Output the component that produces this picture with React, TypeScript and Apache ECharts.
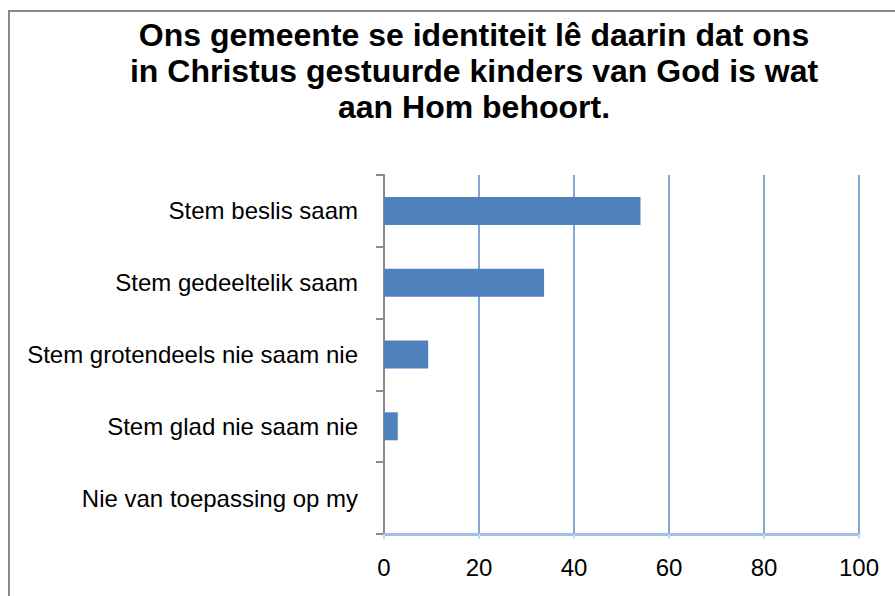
import React, { useEffect, useRef } from "react";
import * as echarts from "echarts";

const titleLines = [
  "Ons gemeente se identiteit lê daarin dat ons",
  "in Christus gestuurde kinders van God is wat",
  "aan Hom behoort.",
];
const categories = [
  "Stem beslis saam",
  "Stem gedeeltelik saam",
  "Stem grotendeels nie saam nie",
  "Stem glad nie saam nie",
  "Nie van toepassing op my",
];
const values = [54.0, 33.7, 9.3, 2.9, 0];
const xMin = 0;
const xMax = 100;
const xStep = 20;

export default function App() {
  const ref = useRef<HTMLDivElement>(null);
  useEffect(() => {
    if (!ref.current) return;
    const chart = echarts.init(ref.current, undefined, { renderer: "svg" });
    chart.setOption({
      animation: false,
      backgroundColor: "#ffffff",
      title: {
        text: titleLines.join("\n"),
        left: 469,
        top: 12,
        textAlign: "center",
        textStyle: {
          fontFamily: "Liberation Sans, Arial, sans-serif",
          fontWeight: "bold",
          fontSize: 32,
          lineHeight: 36,
          color: "#000000",
        },
      },
      graphic: [
        {
          type: "rect",
          shape: { x: 9, y: 11, width: 1000, height: 1000 },
          style: { fill: "none", stroke: "#8a8a8a", lineWidth: 2 },
          silent: true,
        },
      ],
      grid: { left: 384, top: 175, width: 475, height: 359, containLabel: false },
      xAxis: {
        type: "value",
        min: xMin,
        max: xMax,
        interval: xStep,
        axisLine: { show: true, lineStyle: { color: "#a3bde4", width: 3 } },
        axisTick: { show: true, length: 5, lineStyle: { color: "#c5d6ef", width: 2 } },
        splitLine: { show: true, lineStyle: { color: "#5a88c4", width: 1.5 } },
        axisLabel: {
          margin: 21,
          fontFamily: "Liberation Sans, Arial, sans-serif",
          fontSize: 24,
          color: "#000000",
        },
      },
      yAxis: {
        type: "category",
        data: categories,
        inverse: true,
        axisLine: { show: true, lineStyle: { color: "#8a8a8a", width: 2 } },
        axisTick: { show: true, length: 8, lineStyle: { color: "#8a8a8a", width: 2 } },
        axisLabel: {
          margin: 26,
          fontFamily: "Liberation Sans, Arial, sans-serif",
          fontSize: 24,
          color: "#000000",
        },
      },
      series: [
        {
          type: "bar",
          data: values,
          barWidth: 28,
          itemStyle: { color: "#4f81bd" },
        },
      ],
    });
    return () => chart.dispose();
  }, []);
  return (
    <div
      ref={ref}
      style={{ position: "fixed", left: 0, top: 0, width: 895, height: 596 }}
    />
  );
}
